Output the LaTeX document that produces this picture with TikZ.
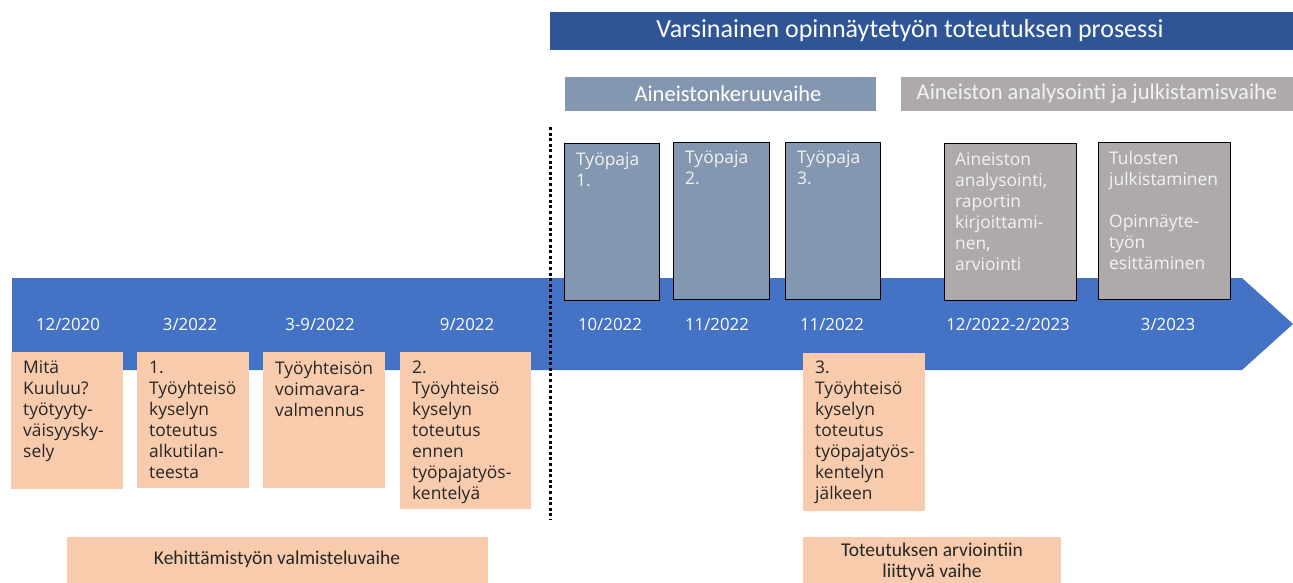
\documentclass[tikz,border=0pt]{standalone}
\usepackage{fontspec}
\setmainfont{Open Sans}
\newfontfamily\calfont{Carlito}
\usetikzlibrary{calc}
\definecolor{arrowblue}{HTML}{4472C4}
\definecolor{titleblue}{HTML}{2F5597}
\definecolor{greyblue}{HTML}{8497B0}
\definecolor{warmgrey}{HTML}{AEAAAA}
\definecolor{salmon}{HTML}{F8CBAD}
\definecolor{darktext}{HTML}{262626}
\definecolor{lighttext}{HTML}{F2F2F2}
\begin{document}
\begin{tikzpicture}[x=1pt,y=-1pt,
  rect/.style={draw=none, inner sep=0, anchor=north west},
  salmonbox/.style={rect, fill=salmon},
  wpbox/.style={rect, fill=greyblue, draw=black, line width=1.2pt},
  grbox/.style={rect, fill=warmgrey, draw=black, line width=1.2pt},
  btxt/.style={inner sep=0, anchor=north west, align=left, font=\fontsize{17.4}{21}\selectfont},
  dtxt/.style={inner sep=0, text=white, font=\fontsize{16.8}{19}\selectfont},
  ctxt/.style={inner sep=0, align=center, font=\calfont\fontsize{19.5}{21}\selectfont, text=darktext},
  htxt/.style={inner sep=0, font=\calfont\fontsize{22.5}{26}\selectfont},
]
\useasboundingbox (0,0) rectangle (1293,582);
\fill[white] (0,0) rectangle (1293,582);

% banners
\node[rect, fill=titleblue, minimum width=743, minimum height=38] (ban) at (550,12) {};
\node[htxt, text=white, font=\calfont\fontsize{26}{30}\selectfont] (bant) at (910,31) {Varsinainen opinnäytetyön toteutuksen prosessi};
\node[rect, fill=greyblue, minimum width=311, minimum height=34] (kb) at (565,77) {};
\node[htxt, text=white] (kbt) at (728,94) {Aineistonkeruuvaihe};
\node[rect, fill=warmgrey, minimum width=392, minimum height=34] (ab) at (901,77) {};
\node[htxt, text=lighttext] (abt) at (1097,94) {Aineiston analysointi ja julkistamisvaihe};

% arrow
\fill[arrowblue] (12,278) -- (1242,278) -- (1293,324) -- (1242,370) -- (12,370) -- cycle;

% dates
\node[dtxt] (d1) at (68,324) {12/2020};
\node[dtxt] (d2) at (190,324) {3/2022};
\node[dtxt] (d3) at (320,324) {3-9/2022};
\node[dtxt] (d4) at (467,324) {9/2022};
\node[dtxt] (d5) at (610,324) {10/2022};
\node[dtxt] (d6) at (717,324) {11/2022};
\node[dtxt] (d7) at (832,324) {11/2022};
\node[dtxt] (d8) at (1008,324) {12/2022-2/2023};
\node[dtxt] (d9) at (1168,324) {3/2023};

% salmon boxes
\node[salmonbox, minimum width=112, minimum height=137] (s1) at (11,352) {};
\node[btxt, text=darktext] (s1t) at ($(s1.north west)+(12,9)$) {Mitä\\Kuuluu?\\työtyyty-\\väisyysky-\\sely};
\node[salmonbox, minimum width=112, minimum height=136] (s2) at (137,352) {};
\node[btxt, text=darktext] (s2t) at ($(s2.north west)+(12,9)$) {1.\\Työyhteisö\\kyselyn\\toteutus\\alkutilan-\\teesta};
\node[salmonbox, minimum width=122, minimum height=136] (s3) at (263,352) {};
\node[btxt, text=darktext] (s3t) at ($(s3.north west)+(12,9)$) {Työyhteisön\\voimavara-\\valmennus};
\node[salmonbox, minimum width=131, minimum height=157] (s4) at (400,352) {};
\node[btxt, text=darktext] (s4t) at ($(s4.north west)+(12,9)$) {2.\\Työyhteisö\\kyselyn\\toteutus\\ennen\\työpajatyös-\\kentelyä};
\node[salmonbox, minimum width=122, minimum height=158] (s5) at (803,353) {};
\node[btxt, text=darktext] (s5t) at ($(s5.north west)+(12,8)$) {3.\\Työyhteisö\\kyselyn\\toteutus\\työpajatyös-\\kentelyn\\jälkeen};

% workshop boxes
\node[wpbox, minimum width=95, minimum height=157] (w1) at (564,143) {};
\node[btxt, text=lighttext] (w1t) at ($(w1.north west)+(12,10)$) {Työpaja\\1.};
\node[wpbox, minimum width=96, minimum height=157] (w2) at (673,142) {};
\node[btxt, text=lighttext] (w2t) at ($(w2.north west)+(12,9)$) {Työpaja\\2.};
\node[wpbox, minimum width=95, minimum height=157] (w3) at (785,142) {};
\node[btxt, text=lighttext] (w3t) at ($(w3.north west)+(12,9)$) {Työpaja\\3.};

% analysis boxes
\node[grbox, minimum width=132, minimum height=157] (g1) at (944,143) {};
\node[btxt, text=lighttext] (g1t) at ($(g1.north west)+(11,10)$) {Aineiston\\analysointi,\\raportin\\kirjoittami-\\nen,\\arviointi};
\node[grbox, minimum width=132, minimum height=157] (g2) at (1098,142) {};
\node[btxt, text=lighttext] (g2t) at ($(g2.north west)+(11,9)$) {Tulosten\\julkistaminen\\[21pt]Opinnäyte-\\työn\\esittäminen};

% bottom phase boxes
\node[salmonbox, minimum width=421, minimum height=50] (p1) at (67,537) {};
\node[ctxt] (p1t) at (277,559) {Kehittämistyön valmisteluvaihe};
\node[salmonbox, minimum width=258, minimum height=50] (p2) at (803,537) {};
\node[ctxt] (p2t) at (932,562) {Toteutuksen arviointiin\\liittyvä vaihe};

% dotted divider
\coordinate (dvtop) at (550,127);
\coordinate (dvbot) at (550,520);
\draw[line width=3pt, dash pattern=on 3pt off 2.6pt] (dvtop) -- (dvbot);
\end{tikzpicture}
\end{document}
